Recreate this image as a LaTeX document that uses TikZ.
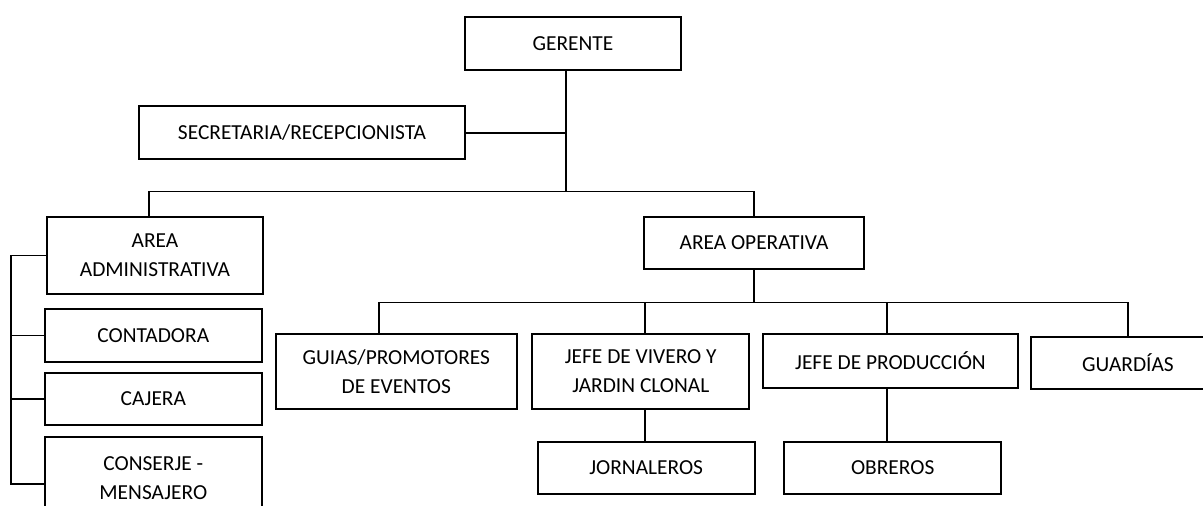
\documentclass[tikz,border=0pt]{standalone}
\usepackage{fontspec}
\setmainfont{Carlito}
\begin{document}
\begin{tikzpicture}[x=1pt,y=-1pt,
  box/.style={draw=black, line width=1.8pt, rectangle, inner sep=0pt, align=center,
              font=\fontsize{21.4}{29}\selectfont},
  conn/.style={draw=black, line width=1.8pt}]
\useasboundingbox (0,0) rectangle (1203,506);
\clip (0,0) rectangle (1203,506);
% boxes
\node[box, minimum width=216.5, minimum height=53.3] (ger) at (573,43.3) {GERENTE};
\node[box, minimum width=325.7, minimum height=53.3] (sec) at (302,132.7) {SECRETARIA/RECEPCIONISTA};
\node[box, minimum width=216.6, minimum height=77.6] (adm) at (155,255.5) {AREA\\ADMINISTRATIVA};
\node[box, minimum width=219.7, minimum height=52.6] (op) at (754,243) {AREA OPERATIVA};
\node[box, minimum width=216.7, minimum height=52.4] (cont) at (153.3,335.5) {CONTADORA};
\node[box, minimum width=216.7, minimum height=52.3] (caj) at (153.3,398.8) {CAJERA};
\node[box, minimum width=216.7, minimum height=93.4, anchor=north] (cons) at (153.3,436) {CONSERJE -\\MENSAJERO\\[-17pt]};
\node[box, minimum width=240.7, minimum height=75] (guias) at (396.3,371.8) {GUIAS/PROMOTORES\\DE EVENTOS};
\node[box, minimum width=217, minimum height=75] (viv) at (640.8,371.5) {JEFE DE VIVERO Y\\JARDIN CLONAL};
\node[box, minimum width=255.6, minimum height=53.4] (prod) at (890.5,361) {JEFE DE PRODUCCIÓN};
\node[box, minimum width=194.6, minimum height=52.3] (guard) at (1128,362.8) {GUARDÍAS};
\node[box, minimum width=217, minimum height=52.6] (jorn) at (646.2,468) {JORNALEROS};
\node[box, minimum width=216.7, minimum height=52.6] (obr) at (892.7,468) {OBREROS};
% coordinates
\coordinate (t1) at (566,191.5);
\coordinate (aL) at (149,191.5);
\coordinate (aR) at (754,191.5);
\coordinate (bg) at (379,302.5);
\coordinate (bv) at (645,302.5);
\coordinate (bp) at (887,302.5);
\coordinate (bq) at (1128,302.5);
\coordinate (lb) at (11,0);
% connectors
\draw[conn] (ger.south -| t1) -- (t1);
\draw[conn] (sec.east) -- (sec.east -| t1);
\draw[conn] (adm.north -| aL) -- (aL) -- (aR) -- (op.north);
\draw[conn] (op.south) -- (op.south |- bg);
\draw[conn] (guias.north -| bg) -- (bg) -- (bq) -- (guard.north);
\draw[conn] (bv) -- (viv.north -| bv);
\draw[conn] (bp) -- (prod.north -| bp);
\draw[conn] (viv.south -| bv) -- (jorn.north -| bv);
\draw[conn] (prod.south -| bp) -- (obr.north -| bp);
\draw[conn] (adm.west) -- (adm.west -| lb) -- (cons.west -| lb) -- (cons.west);
\draw[conn] (cont.west) -- (cont.west -| lb);
\draw[conn] (caj.west) -- (caj.west -| lb);
\end{tikzpicture}
\end{document}
